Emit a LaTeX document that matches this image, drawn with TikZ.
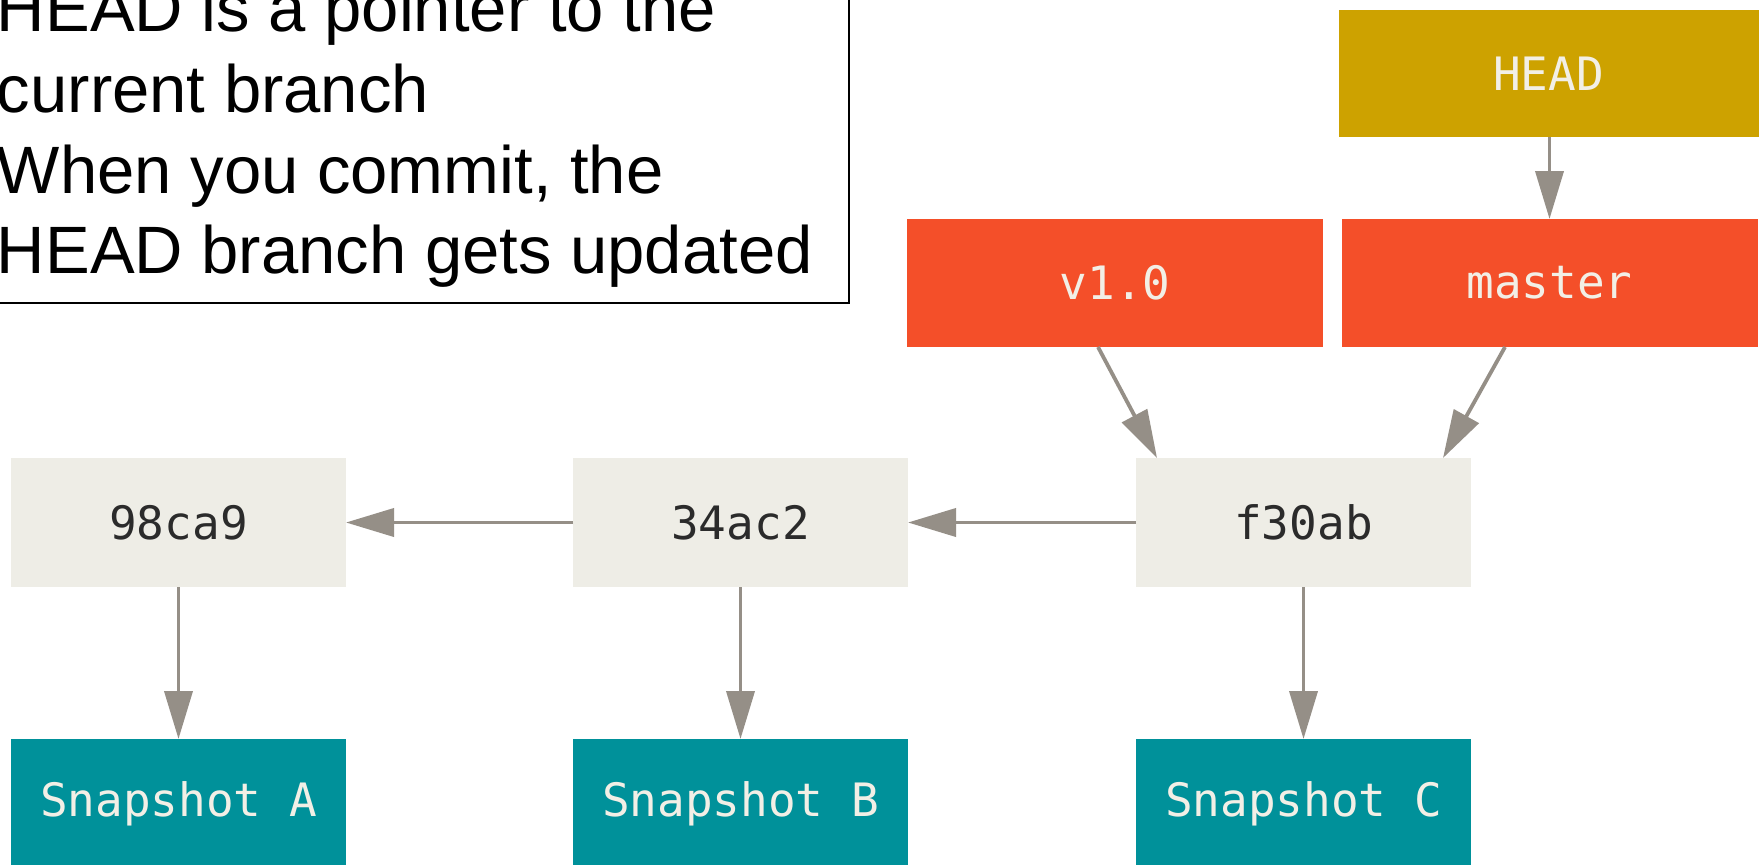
\documentclass[tikz,border=0pt]{standalone}
\usepackage{fontspec}
\usetikzlibrary{arrows.meta}
\newfontfamily\notefont{Liberation Sans}
\newfontfamily\labelfont{DejaVu Sans Mono}
\definecolor{headgold}{HTML}{CDA200}
\definecolor{branchred}{HTML}{F44F29}
\definecolor{snapteal}{HTML}{00919A}
\definecolor{commitbg}{HTML}{EEEDE6}
\definecolor{arrowgrey}{HTML}{958F87}
\definecolor{lighttext}{HTML}{F2EFE6}
\definecolor{darktext}{HTML}{2B2B2B}
\tikzset{
  box/.style={rectangle, draw=none, outer sep=0pt, inner sep=0pt,
    font=\labelfont\fontsize{46}{50}\selectfont},
  headbox/.style={box, fill=headgold, text=lighttext, minimum width=420pt, minimum height=127pt},
  branchbox/.style={box, fill=branchred, text=lighttext, minimum width=416pt, minimum height=128pt},
  commitbox/.style={box, fill=commitbg, text=darktext, minimum width=335pt, minimum height=129pt},
  snapbox/.style={box, fill=snapteal, text=lighttext, minimum width=335pt, minimum height=129pt},
  conn/.style={draw=arrowgrey, line width=3.8pt, -{Triangle[length=48pt,width=28pt]}},
  noteline/.style={anchor=base west, inner sep=0pt, outer sep=0pt,
    font=\notefont\fontsize{67}{80}\selectfont, text=black}
}
\begin{document}
\begin{tikzpicture}[x=1pt,y=-1pt]
\clip (0,0) rectangle (1760,864);
\fill[white] (0,0) rectangle (1760,864);
% note box
\draw[line width=2pt, fill=white] (-30,-30) rectangle (849,303);
\node[noteline] (l1) at (-3,32) {HEAD is a pointer to the};
\node[noteline] (l2) at (-3,112.5) {current branch};
\node[noteline] (l3) at (-3,193) {When you commit, the};
\node[noteline] (l4) at (-3,273.5) {HEAD branch gets updated};
% pointers
\node[headbox] (head) at (1548.5,73.5) {HEAD};
\node[branchbox] (v10) at (1115,283) {v1.0};
\node[branchbox] (master) at (1549.5,283) {master};
% commits
\node[commitbox] (c1) at (178.5,522.5) {98ca9};
\node[commitbox] (c2) at (740.5,522.5) {34ac2};
\node[commitbox] (c3) at (1303.5,522.5) {f30ab};
% snapshots
\node[snapbox] (sA) at (178.5,803.5) {Snapshot A};
\node[snapbox] (sB) at (740.5,803.5) {Snapshot B};
\node[snapbox] (sC) at (1303.5,803.5) {Snapshot C};
% connectors
\draw[conn] (c2.west) -- (c1.east);
\draw[conn] (c3.west) -- (c2.east);
\draw[conn] (c1.south) -- (sA.north);
\draw[conn] (c2.south) -- (sB.north);
\draw[conn] (c3.south) -- (sC.north);
\draw[conn] (master.north |- head.south) -- (master.north);
\draw[conn] ([xshift=-17pt]v10.south) -- ([xshift=-146.5pt]c3.north);
\draw[conn] ([xshift=-44.5pt]master.south) -- ([xshift=139.5pt]c3.north);
\end{tikzpicture}
\end{document}
